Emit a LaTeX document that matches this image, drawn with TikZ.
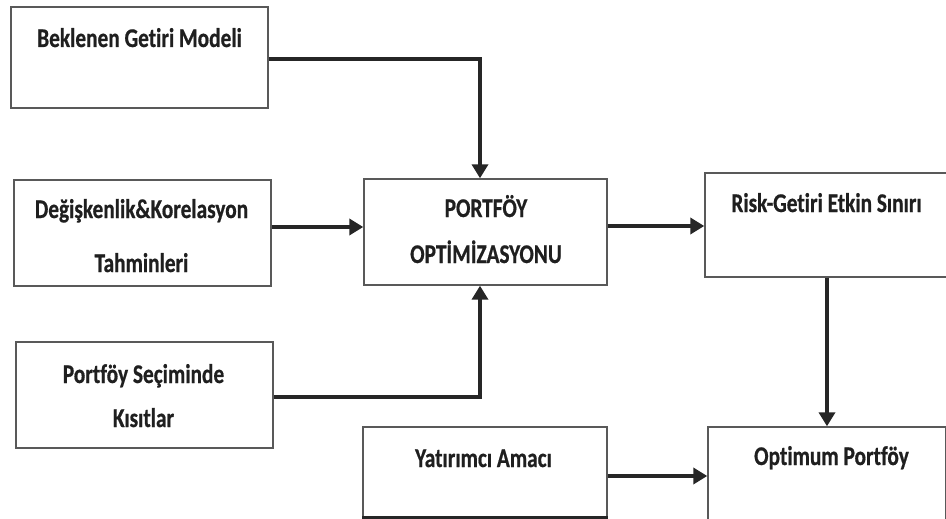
\documentclass[tikz,border=0pt]{standalone}
\usepackage{fontspec}
\setmainfont{Carlito}[FakeStretch=0.79, Ligatures={NoCommon}, BoldFeatures={FakeBold=0.6}]
\usetikzlibrary{arrows.meta}
\begin{document}
\begin{tikzpicture}[x=1pt,y=-1pt,
  box/.style={draw=black!65, line width=1.4pt, inner sep=0pt, fill=white},
  lbl/.style={font=\fontsize{27}{32}\selectfont\bfseries, text=black!88, inner sep=0pt, anchor=base},
  arr/.style={line width=3.8pt, draw=black!85, -{Triangle[length=14pt,width=16pt]}}]
\clip (0,0) rectangle (946,519);
\fill[white] (0,0) rectangle (946,519);
% boxes
\node[box, minimum width=257pt, minimum height=101pt] (b1) at (139.5,57.5) {};
\node[box, minimum width=257pt, minimum height=106pt] (b2) at (142.5,233) {};
\node[box, minimum width=257pt, minimum height=106pt] (b3) at (144.5,395) {};
\node[box, minimum width=243pt, minimum height=106pt] (po) at (485.5,232) {};
\node[box, minimum width=244pt, minimum height=104pt] (rk) at (827,225) {};
\node[box, minimum width=244pt, minimum height=90pt] (ya) at (485,472) {};
\node[box, minimum width=238pt, minimum height=100pt] (op) at (827,477) {};
\draw[line width=3pt, black!85] (ya.south west) -- (ya.south east);
% labels
\node[lbl] (t1) at (139.5,47) {Beklenen Getiri Modeli};
\node[lbl] (t2a) at (141.5,218) {Değişkenlik\&Korelasyon};
\node[lbl] (t2b) at (141.5,272) {Tahminleri};
\node[lbl] (t3a) at (143.5,383) {Portföy Seçiminde};
\node[lbl] (t3b) at (143.5,427) {Kısıtlar};
\node[lbl] (t4a) at (486,217) {PORTFÖY};
\node[lbl] (t4b) at (486,263) {OPTİMİZASYONU};
\node[lbl] (t5) at (826.5,212) {Risk-Getiri Etkin Sınırı};
\node[lbl] (t6) at (483.5,467) {Yatırımcı Amacı};
\node[lbl] (t7) at (831.5,465) {Optimum Portföy};
% connectors
\draw[arr] ([yshift=-1.5pt]b1.east) -| ([xshift=-5.5pt]po.north);
\draw[arr] ([yshift=6pt]b2.east) -- ([yshift=6pt]b2.east -| po.west);
\draw[arr] ([yshift=-2pt]b3.east) -| ([xshift=-5.5pt]po.south);
\draw[arr] ([yshift=6pt]po.east) -- ([yshift=6pt]po.east -| rk.west);
\draw[arr] (rk.south) -- (rk.south |- op.north);
\draw[arr] ([yshift=-4pt]ya.east) -- ([yshift=-4pt]ya.east -| op.west);
\end{tikzpicture}
\end{document}
